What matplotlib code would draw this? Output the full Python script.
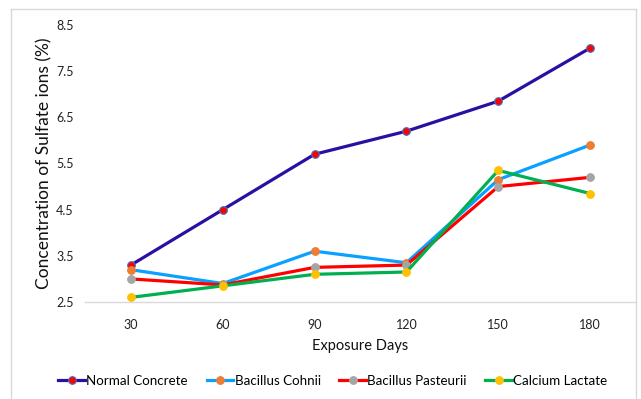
import matplotlib
matplotlib.use("Agg")
import matplotlib.pyplot as plt
from matplotlib.lines import Line2D

plt.rcParams['font.family'] = ['Lato', 'DejaVu Sans']

days = ['30', '60', '90', '120', '150', '180']
normal_concrete = [3.3, 4.5, 5.7, 6.2, 6.85, 8.0]
bacillus_cohnii = [3.2, 2.9, 3.6, 3.35, 5.15, 5.9]
bacillus_pasteurii = [3.0, 2.87, 3.25, 3.3, 5.0, 5.2]
calcium_lactate = [2.6, 2.85, 3.1, 3.15, 5.35, 4.85]
y_ticks = [2.5, 3.5, 4.5, 5.5, 6.5, 7.5, 8.5]

series = [
    ('Normal Concrete', normal_concrete, '#2B0FA3', '#FF0000', '#4472C4'),
    ('Bacillus Cohnii', bacillus_cohnii, '#0AA0FF', '#ED7D31', '#ED7D31'),
    ('Bacillus Pasteurii', bacillus_pasteurii, '#FF0000', '#A5A5A5', '#A5A5A5'),
    ('Calcium Lactate', calcium_lactate, '#00B050', '#FFC000', '#FFC000'),
]

fig = plt.figure(figsize=(6.41, 3.99), dpi=100)
W, H = 641, 399
ax = fig.add_axes([85 / W, 1 - 302 / H, (636 - 85) / W, (302 - 25) / H])

x = range(len(days))
for name, vals, lc, mc, ec in series:
    ax.plot(x, vals, color=lc, lw=2.3, marker='o', ms=5.5,
            mfc=mc, mec=ec, mew=0.8, label=name)

ax.set_xlim(-0.5, len(days) - 0.5)
ax.set_ylim(2.5, 8.5)
ax.set_xticks(list(x))
ax.set_xticklabels(days)
ax.set_yticks(y_ticks)
ax.set_yticklabels([f'{v:.1f}' for v in y_ticks])
ax.tick_params(length=0, labelsize=9, colors='#222222', pad=12)
ax.tick_params(axis='y', pad=8)

for s in ['top', 'right', 'left']:
    ax.spines[s].set_visible(False)
ax.spines['bottom'].set_color('#D9D9D9')
ax.spines['bottom'].set_linewidth(1.0)

ax.set_ylabel('Concentration of Sulfate ions (%)', fontsize=12.5, color='#111111', labelpad=3)
ax.set_xlabel('Exposure Days', fontsize=10.5, color='#111111', labelpad=6)

# outer frame of the chart area
frame = dict(color='#D9D9D9', lw=1.0, transform=fig.transFigure)
fig.add_artist(Line2D([11 / W, 11 / W], [0, 1 - 9 / H], **frame))
fig.add_artist(Line2D([11 / W, 636 / W], [1 - 9 / H, 1 - 9 / H], **frame))
fig.add_artist(Line2D([636 / W, 636 / W], [0, 1 - 9 / H], **frame))

handles, labels = ax.get_legend_handles_labels()
fig.legend(handles, labels, loc='center', bbox_to_anchor=(333 / W, 1 - 381 / H),
           ncol=4, frameon=False, fontsize=9.6, handlelength=2.0, handletextpad=0.1,
           columnspacing=1.4, borderaxespad=0)

fig.savefig('out.png', dpi=100, facecolor='white')
